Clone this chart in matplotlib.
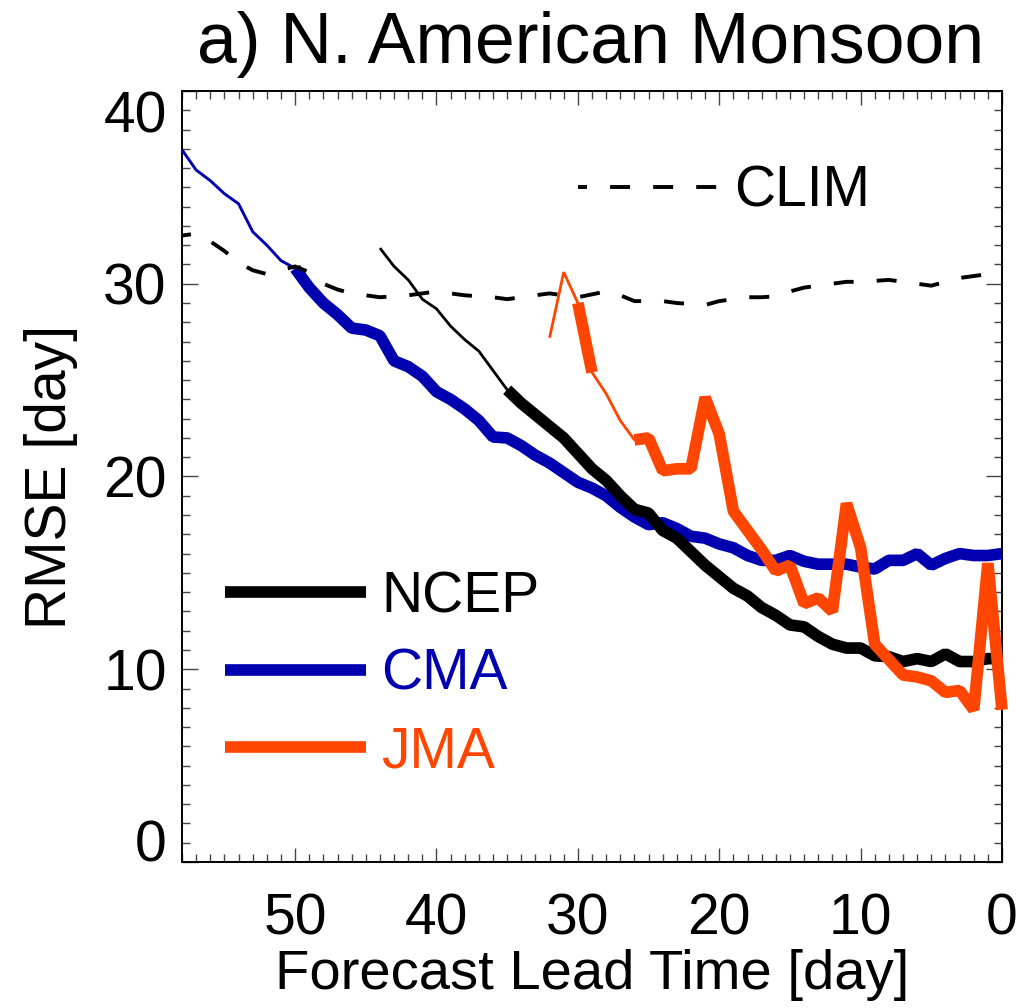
import matplotlib
matplotlib.use('Agg')
import matplotlib.pyplot as plt
from matplotlib.ticker import MultipleLocator

plt.rcParams['font.family'] = ['Liberation Sans', 'DejaVu Sans']
plt.rcParams['lines.scale_dashes'] = False

# ---------------- data ----------------
title = "a) N. American Monsoon"
xlabel = "Forecast Lead Time [day]"
ylabel = "RMSE [day]"

clim_lead = list(range(58, -1, -1))
clim_rmse = [32.5, 32.6, 32.2, 31.7, 31.1, 30.7, 30.5, 30.7, 30.9, 30.6,
             30.0, 29.7, 29.5, 29.4, 29.3, 29.35, 29.4, 29.5, 29.6, 29.5,
             29.4, 29.35, 29.3, 29.2, 29.3, 29.4, 29.5, 29.4, 29.3, 29.45,
             29.6, 29.4, 29.1, 29.1, 29.1, 29.0, 28.95, 28.9, 29.1, 29.2,
             29.3, 29.3, 29.35, 29.6, 29.8, 29.9, 30.0, 30.1, 30.1, 30.15,
             30.2, 30.1, 30.0, 29.9, 30.1, 30.3, 30.4, 30.5, 30.4]

cma_lead = list(range(58, -1, -1))
cma_rmse = [36.95, 35.9, 35.35, 34.67, 34.15, 32.7, 32.0, 31.2, 30.8, 29.8,
            29.0, 28.4, 27.7, 27.6, 27.3, 26.0, 25.7, 25.2, 24.4, 24.0,
            23.5, 22.9, 22.05, 22.0, 21.6, 21.1, 20.7, 20.2, 19.7, 19.4,
            19.0, 18.4, 17.9, 17.5, 17.6, 17.3, 16.9, 16.8, 16.5, 16.3,
            15.9, 15.65, 15.65, 15.9, 15.6, 15.45, 15.45, 15.45, 15.3, 15.2,
            15.65, 15.65, 16.0, 15.4, 15.75, 16.0, 15.9, 15.9, 16.0]
cma_thick = [(50, 0)]

ncep_lead = list(range(44, -1, -1))
ncep_rmse = [31.85, 30.9, 30.2, 29.2, 28.7, 27.8, 27.1, 26.5, 25.5, 24.5,
             23.8, 23.2, 22.6, 22.0, 21.2, 20.4, 19.8, 19.0, 18.3, 18.1,
             17.2, 16.8, 16.1, 15.4, 14.8, 14.2, 13.8, 13.2, 12.8, 12.3,
             12.2, 11.7, 11.3, 11.1, 11.1, 10.7, 10.65, 10.4, 10.55, 10.4,
             10.8, 10.4, 10.4, 10.55, 10.55]
ncep_thick = [(35, 0)]

jma_lead = list(range(32, -1, -1))
jma_rmse = [27.2, 30.6, 29.0, 25.4, 24.3, 22.9, 21.9, 22.0, 20.3, 20.4,
            20.4, 24.1, 22.2, 18.2, 17.2, 16.2, 15.1, 15.4, 13.4, 13.7,
            13.0, 18.6, 16.3, 11.3, 10.5, 9.7, 9.6, 9.4, 8.8, 8.9,
            7.9, 15.5, 7.9]
jma_thick = [(30, 29), (26, 0)]

models = ["NCEP", "CMA", "JMA"]
colors = {"NCEP": "black", "CMA": "#0000B0", "JMA": "#FF4500"}

# ---------------- figure ----------------
W, H = 1019, 1008
fig = plt.figure(figsize=(W / 100, H / 100), dpi=100)
ax = fig.add_axes([182 / W, 1 - 862 / H, 820 / W, 771 / H])

THIN = 2.0
THICK = 8.4
FS = 41


def draw(lead, vals, color, thick_ranges, thin_lw=THIN):
    ax.plot(lead, vals, color=color, lw=thin_lw, clip_on=False,
            solid_joinstyle='bevel', solid_capstyle='butt', zorder=3)
    for hi, lo in thick_ranges:
        xs = [l for l in lead if lo <= l <= hi]
        ys = [v for l, v in zip(lead, vals) if lo <= l <= hi]
        ax.plot(xs, ys, color=color, lw=THICK, clip_on=False,
                solid_joinstyle='bevel', solid_capstyle='butt', zorder=3)


draw(cma_lead, cma_rmse, colors["CMA"], cma_thick, thin_lw=2.1)
draw(ncep_lead, ncep_rmse, colors["NCEP"], ncep_thick)
draw(jma_lead, jma_rmse, colors["JMA"], jma_thick)

dash = (7.9, (14.4, 16.6))
ax.plot(clim_lead, clim_rmse, color='black', lw=2.8, linestyle=dash,
        dash_capstyle='butt', clip_on=False, zorder=4)

ax.set_xlim(58, 0)
ax.set_ylim(0, 40)
ax.xaxis.set_major_locator(MultipleLocator(10))
ax.xaxis.set_minor_locator(MultipleLocator(1))
ax.yaxis.set_major_locator(MultipleLocator(10))
ax.yaxis.set_minor_locator(MultipleLocator(1))

ax.tick_params(which='both', direction='in', top=True, right=True,
               color='#444444', width=1.0)
ax.tick_params(axis='x', which='major', length=10, pad=22, labelsize=FS)
ax.tick_params(axis='x', which='minor', length=5.8)
ax.tick_params(axis='y', which='major', length=11.5, pad=11, labelsize=FS)
ax.tick_params(axis='y', which='minor', length=5.8)
for s in ax.spines.values():
    s.set_linewidth(1.4)
    s.set_color('black')

fig.canvas.draw()
for lab in ax.get_yticklabels():
    t = lab.get_text()
    if t == '0':
        lab.set_va('baseline')
    elif t == '40':
        lab.set_va('top')

ax.set_xlabel(xlabel, fontsize=40.5, labelpad=2)
ax.set_ylabel(ylabel, fontsize=FS, labelpad=18)

fig.text(591 / W, 1 - 63 / H, title, fontsize=51.5, ha='center', va='baseline')

# ---------------- legend ----------------
leg_y = {"NCEP": 0.3498, "CMA": 0.249, "JMA": 0.1495}
leg_base = {"NCEP": 0.3237, "CMA": 0.2231, "JMA": 0.1232}
for m in models:
    ax.plot([0.0524, 0.224], [leg_y[m], leg_y[m]], transform=ax.transAxes,
            color=colors[m], lw=THICK, solid_capstyle='butt', clip_on=False)
    ax.text(0.243, leg_base[m], m, transform=ax.transAxes, fontsize=FS,
            color=colors[m], ha='left', va='baseline')

ax.plot([0.483, 0.654], [0.875, 0.875], transform=ax.transAxes,
        color='black', lw=2.8, linestyle=dash, dash_capstyle='butt')
ax.text(0.673, 0.8503, "CLIM", transform=ax.transAxes, fontsize=FS,
        color='black', ha='left', va='baseline')

fig.savefig('out.png', dpi=100)
